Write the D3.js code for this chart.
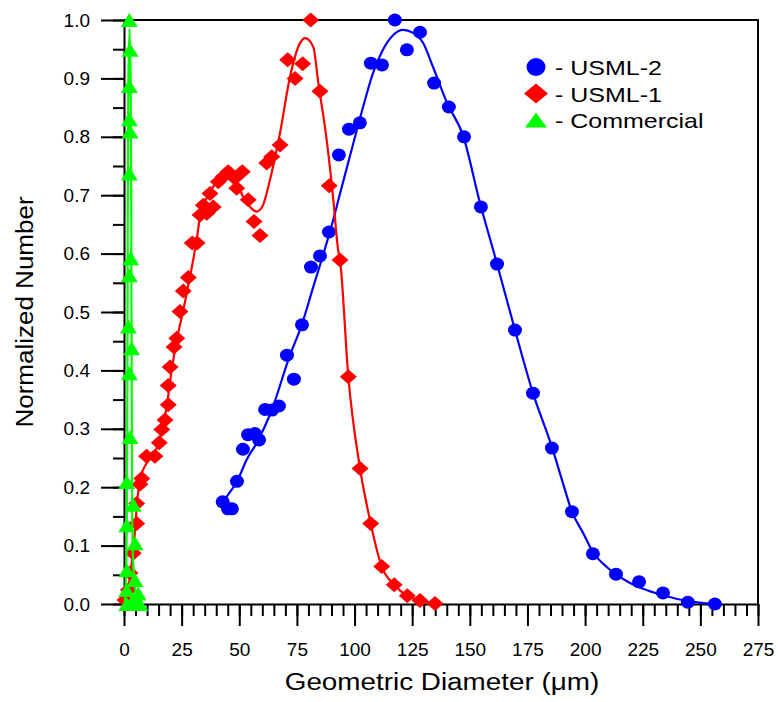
<!DOCTYPE html>
<html>
<head>
<meta charset="utf-8">
<script src="https://cdn.jsdelivr.net/npm/d3@7/dist/d3.min.js"></script>
<style>
  body { margin: 0; background: #fff; }
  svg { display: block; font-family: "Liberation Sans", Arial, sans-serif; }
</style>
</head>
<body>
<svg width="778" height="702"></svg>
<script>
// measured points, [diameter um, normalized number]
const usml2Points = [
  [42.8, 0.175], [45.1, 0.163], [46.8, 0.163], [49.0, 0.210], [51.6, 0.265],
  [53.8, 0.290], [56.8, 0.292], [58.6, 0.281], [61.2, 0.333], [64.2, 0.332],
  [67.2, 0.339], [70.7, 0.426], [73.7, 0.385], [77.2, 0.478], [81.1, 0.577],
  [85.0, 0.596], [88.9, 0.637], [93.2, 0.769], [97.6, 0.813], [102.3, 0.824],
  [107.1, 0.926], [111.9, 0.923], [117.5, 1.0], [122.7, 0.949], [128.4, 0.979],
  [134.5, 0.892], [140.9, 0.851], [147.5, 0.800], [154.8, 0.680], [161.8, 0.582],
  [169.6, 0.469], [177.4, 0.361], [185.6, 0.267], [194.3, 0.158], [203.4, 0.086],
  [213.4, 0.051], [223.4, 0.038], [233.8, 0.019], [244.6, 0.003], [256.3, 0.0]
];
const usml2Fit = [
  [42.8, 0.175], [45.1, 0.187], [48.9, 0.209], [53.2, 0.247], [57.6, 0.276],
  [63.3, 0.324], [72.0, 0.426], [77.1, 0.478], [82.1, 0.543], [86.4, 0.598],
  [90.7, 0.657], [93.7, 0.703], [98.0, 0.767], [103.7, 0.851], [108.0, 0.909],
  [112.3, 0.949], [116.7, 0.974], [121.0, 0.983], [125.4, 0.978], [129.7, 0.961],
  [134.0, 0.920], [140.1, 0.858], [147.0, 0.803], [154.4, 0.687], [161.7, 0.584],
  [169.6, 0.469], [177.4, 0.361], [185.6, 0.269], [190.4, 0.207], [194.3, 0.158],
  [199.1, 0.122], [203.4, 0.089], [209.5, 0.063], [213.8, 0.050], [219.5, 0.036],
  [225.1, 0.026], [233.8, 0.015], [244.6, 0.005], [256.3, 0.0]
];
const usml1Points = [
  [0.4, 0.007], [1.9, 0.024], [2.6, 0.053], [4.0, 0.087], [5.5, 0.138],
  [5.5, 0.172], [6.9, 0.205], [7.7, 0.215], [9.8, 0.253], [13.4, 0.253],
  [15.3, 0.276], [16.4, 0.299], [17.8, 0.315], [19.2, 0.341], [19.2, 0.374],
  [20.0, 0.406], [21.7, 0.440], [22.9, 0.455], [24.3, 0.501], [25.7, 0.536],
  [27.9, 0.559], [29.6, 0.618], [31.7, 0.618], [33.0, 0.666], [34.4, 0.683],
  [35.9, 0.669], [37.3, 0.703], [38.7, 0.680], [40.9, 0.723], [43.1, 0.732],
  [45.2, 0.740], [48.1, 0.729], [48.9, 0.712], [51.3, 0.740], [53.9, 0.692],
  [56.4, 0.655], [59.0, 0.631], [61.9, 0.755], [64.1, 0.766], [67.7, 0.786],
  [71.0, 0.932], [74.2, 0.900], [77.5, 0.925], [81.0, 1.0], [85.0, 0.878],
  [89.0, 0.716], [93.7, 0.589], [97.3, 0.389], [102.4, 0.232], [107.0, 0.138],
  [111.8, 0.064], [117.2, 0.033], [122.9, 0.014], [128.4, 0.006], [134.9, 0.001]
];
const usml1Fit = [
  [0.2, 0.0], [1.7, 0.024], [3.5, 0.075], [4.8, 0.127], [5.6, 0.170],
  [6.9, 0.212], [9.8, 0.241], [13.4, 0.259], [16.4, 0.298], [18.5, 0.338],
  [20.7, 0.401], [22.9, 0.452], [25.7, 0.503], [28.6, 0.560], [31.5, 0.623],
  [33.0, 0.663], [37.3, 0.705], [40.8, 0.726], [44.5, 0.737], [48.1, 0.729],
  [51.7, 0.697], [54.7, 0.680], [57.6, 0.672], [60.3, 0.683], [63.3, 0.726],
  [67.7, 0.807], [72.0, 0.903], [76.3, 0.960], [78.5, 0.969], [82.1, 0.954],
  [84.3, 0.892], [87.9, 0.795], [90.8, 0.692], [92.9, 0.606], [93.7, 0.589],
  [97.3, 0.389], [102.4, 0.232], [107.0, 0.138], [111.8, 0.064], [117.2, 0.033],
  [122.9, 0.014], [128.4, 0.006], [134.9, 0.001]
];
const commercialPoints = [
  [2.3, 1.0], [2.6, 0.949], [2.3, 0.887], [2.3, 0.830], [2.6, 0.809],
  [2.3, 0.737], [2.9, 0.592], [2.3, 0.563], [1.9, 0.475], [3.3, 0.438],
  [2.3, 0.395], [2.6, 0.286], [1.2, 0.209], [4.0, 0.170], [1.2, 0.135],
  [4.8, 0.104], [1.2, 0.058], [4.8, 0.041], [1.2, 0.024], [6.2, 0.018],
  [4.0, 0.007], [5.6, 0.002], [1.2, 0.0], [6.9, 0.0]
];
const commercialFit = [
  [0.3, 0.0], [0.9, 0.05], [1.4, 0.3], [1.6, 0.6], [1.9, 0.9], [2.4, 0.985],
  [2.9, 0.9], [3.2, 0.6], [3.4, 0.3], [3.9, 0.08], [5.0, 0.02], [6.5, 0.0]
];
const legendLabels = ['- USML-2', '- USML-1', '- Commercial'];
const xTicks = d3.range(0, 276, 25);
const xMinor = d3.range(0, 276, 5);
const yTicks = d3.range(0, 1.01, 0.1);
const yMinor = d3.range(0, 1.01, 0.05);

const svg = d3.select('svg');
const mLeft = 124, mRight = 758, mTop = 20, mBottom = 604;
const x = d3.scaleLinear().domain([0, 275]).range([mLeft, mRight]);
const y = d3.scaleLinear().domain([0, 1]).range([mBottom, mTop]);

// stretch factor for the wide titles / legend text
const stretch = 1.19;

// frame
svg.append('path')
  .attr('d', `M${mLeft},${mTop}H${mRight}V${mBottom}`)
  .attr('fill', 'none').attr('stroke', '#000').attr('stroke-width', 2);

// minor ticks first
svg.append('g').attr('transform', `translate(0,${mBottom})`)
  .call(d3.axisBottom(x).tickValues(xMinor).tickSize(12).tickFormat(''))
  .call(g => g.select('.domain').remove());
svg.append('g').attr('transform', `translate(${mLeft},0)`)
  .call(d3.axisLeft(y).tickValues(yMinor).tickSize(11).tickFormat(''))
  .call(g => g.select('.domain').remove());

svg.append('g').attr('transform', `translate(0,${mBottom})`)
  .call(d3.axisBottom(x).tickValues(xTicks).tickSizeInner(22).tickSizeOuter(0).tickPadding(17));
svg.append('g').attr('transform', `translate(${mLeft},0)`)
  .call(d3.axisLeft(y).tickValues(yTicks).tickSizeInner(23).tickSizeOuter(0).tickPadding(11).tickFormat(d3.format('.1f')));

svg.selectAll('.tick line').attr('stroke', '#000').attr('stroke-width', 2);
svg.selectAll('.domain').attr('stroke', '#000').attr('stroke-width', 2);
svg.selectAll('.tick text').attr('font-size', 19).attr('fill', '#000')
  .attr('font-family', '"Liberation Sans", Arial, sans-serif');

// axis titles
const xTitle = svg.append('text')
  .attr('x', 442).attr('y', 690).attr('text-anchor', 'middle')
  .attr('font-size', 23).text('Geometric Diameter (\u03bcm)');
xTitle.attr('textLength', xTitle.node().getComputedTextLength() * 1.21)
  .attr('lengthAdjust', 'spacingAndGlyphs');
const yTitle = svg.append('text')
  .attr('transform', 'translate(33,312) rotate(-90)').attr('text-anchor', 'middle')
  .attr('font-size', 23).text('Normalized Number');
yTitle.attr('textLength', yTitle.node().getComputedTextLength() * 1.13)
  .attr('lengthAdjust', 'spacingAndGlyphs');

const line = d3.line().x(d => x(d[0])).y(d => y(d[1])).curve(d3.curveMonotoneX);
const diamond = (w, h) => `M0,${-h / 2}L${w / 2},0L0,${h / 2}L${-w / 2},0Z`;
const triangle = (w, h) => `M0,${-h / 2}L${w / 2},${h / 2}L${-w / 2},${h / 2}Z`;

// USML-2
svg.append('path').datum(usml2Fit).attr('d', line)
  .attr('fill', 'none').attr('stroke', '#0000ff').attr('stroke-width', 2.2);
svg.append('g').selectAll('ellipse').data(usml2Points).join('ellipse')
  .attr('cx', d => x(d[0])).attr('cy', d => y(d[1]))
  .attr('rx', 7).attr('ry', 6.5).attr('fill', '#0000ff');

// USML-1
svg.append('path').datum(usml1Fit).attr('d', line)
  .attr('fill', 'none').attr('stroke', '#ff0000').attr('stroke-width', 2.2);
svg.append('g').selectAll('path').data(usml1Points).join('path')
  .attr('transform', d => `translate(${x(d[0])},${y(d[1])})`)
  .attr('d', diamond(17, 15)).attr('fill', '#ff0000');

// Commercial
svg.append('path').datum(commercialFit).attr('d', d3.line().x(d => x(d[0])).y(d => y(d[1])).curve(d3.curveCatmullRom))
  .attr('fill', 'none').attr('stroke', '#00ff00').attr('stroke-width', 2.2);
svg.append('g').selectAll('path').data(commercialPoints).join('path')
  .attr('transform', d => `translate(${x(d[0])},${y(d[1])})`)
  .attr('d', triangle(17, 14)).attr('fill', '#00ff00');

// legend
const legendColors = ['#0000ff', '#ff0000', '#00ff00'];
const lg = svg.append('g').attr('transform', 'translate(536,67)');
legendLabels.forEach((label, i) => {
  const row = lg.append('g').attr('transform', `translate(0,${i * 26.5})`);
  if (i === 0) row.append('ellipse').attr('rx', 9.5).attr('ry', 9).attr('fill', legendColors[i]);
  if (i === 1) row.append('path').attr('d', diamond(24, 20)).attr('fill', legendColors[i]);
  if (i === 2) row.append('path').attr('d', triangle(22, 15)).attr('fill', legendColors[i]);
  const t = row.append('text').attr('x', 19).attr('y', 8).attr('font-size', 21).text(label);
  t.attr('textLength', t.node().getComputedTextLength() * stretch).attr('lengthAdjust', 'spacingAndGlyphs');
});
</script>
</body>
</html>
